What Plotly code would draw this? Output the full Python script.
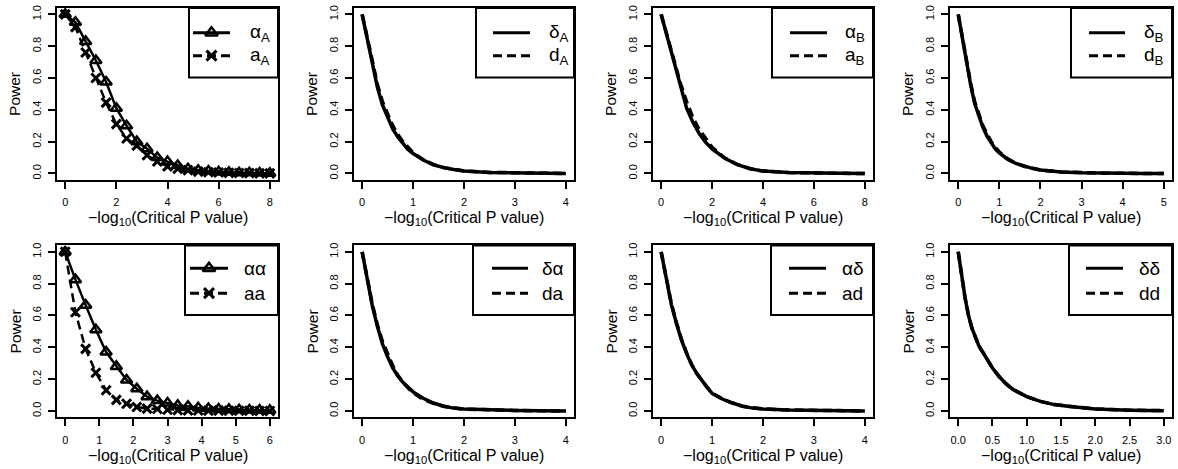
import plotly.graph_objects as go

W, H = 1178, 469

# ---------------- data ----------------
x_alphaA = [0.0, 0.4, 0.8, 1.2, 1.6, 2.0, 2.4, 2.8, 3.2, 3.6, 4.0, 4.4, 4.8, 5.2, 5.6, 6.0, 6.4, 6.8, 7.2, 7.6, 8.0]
alpha_A = [1.0, 0.95, 0.83, 0.71, 0.575, 0.41, 0.30, 0.20, 0.155, 0.10, 0.075, 0.05, 0.03, 0.02, 0.015, 0.01, 0.008, 0.005, 0.004, 0.003, 0.002]
a_A = [1.0, 0.92, 0.76, 0.60, 0.445, 0.31, 0.22, 0.175, 0.115, 0.075, 0.045, 0.03, 0.02, 0.012, 0.008, 0.006, 0.004, 0.003, 0.002, 0.001, 0.001]

x_deltaA = [0, 0.1, 0.2, 0.3, 0.4, 0.5, 0.6, 0.7, 0.8, 0.9, 1.0, 1.2, 1.4, 1.6, 1.8, 2.0, 2.5, 3.0, 3.5, 4.0]
delta_A = [1.0, 0.84, 0.68, 0.54, 0.43, 0.35, 0.28, 0.23, 0.19, 0.15, 0.125, 0.085, 0.055, 0.037, 0.025, 0.016, 0.007, 0.003, 0.001, 0.0]
d_A = [1.0, 0.85, 0.70, 0.56, 0.45, 0.375, 0.30, 0.245, 0.20, 0.165, 0.13, 0.087, 0.056, 0.037, 0.025, 0.016, 0.007, 0.003, 0.001, 0.0]

x_alphaB = [0, 0.25, 0.5, 0.75, 1.0, 1.25, 1.5, 1.75, 2.0, 2.5, 3.0, 3.5, 4.0, 5.0, 6.0, 7.0, 8.0]
alpha_B = [1.0, 0.85, 0.69, 0.54, 0.41, 0.32, 0.25, 0.195, 0.155, 0.095, 0.055, 0.03, 0.015, 0.006, 0.002, 0.001, 0.0]
a_B = [1.0, 0.86, 0.71, 0.57, 0.45, 0.35, 0.275, 0.215, 0.165, 0.097, 0.056, 0.03, 0.015, 0.006, 0.002, 0.001, 0.0]

x_deltaB = [0, 0.1, 0.2, 0.3, 0.4, 0.5, 0.6, 0.7, 0.8, 0.9, 1.0, 1.2, 1.4, 1.6, 1.8, 2.0, 2.5, 3.0, 3.5, 4.0, 4.5, 5.0]
delta_B = [1.0, 0.85, 0.69, 0.56, 0.44, 0.36, 0.29, 0.235, 0.19, 0.155, 0.13, 0.09, 0.063, 0.045, 0.032, 0.022, 0.01, 0.005, 0.002, 0.001, 0.0005, 0.0]
d_B = [1.0, 0.85, 0.70, 0.57, 0.45, 0.37, 0.30, 0.25, 0.20, 0.165, 0.135, 0.092, 0.064, 0.045, 0.032, 0.022, 0.01, 0.005, 0.002, 0.001, 0.0005, 0.0]

x_aa = [0.0, 0.3, 0.6, 0.9, 1.2, 1.5, 1.8, 2.1, 2.4, 2.7, 3.0, 3.3, 3.6, 3.9, 4.2, 4.5, 4.8, 5.1, 5.4, 5.7, 6.0]
alpha_alpha = [1.0, 0.825, 0.665, 0.51, 0.37, 0.28, 0.195, 0.14, 0.09, 0.065, 0.05, 0.035, 0.03, 0.02, 0.015, 0.012, 0.01, 0.008, 0.006, 0.005, 0.004]
aa = [1.0, 0.62, 0.39, 0.24, 0.13, 0.07, 0.045, 0.025, 0.015, 0.012, 0.008, 0.005, 0.004, 0.003, 0.002, 0.002, 0.001, 0.001, 0.001, 0.0, 0.0]

x_da = [0, 0.1, 0.2, 0.3, 0.4, 0.5, 0.6, 0.7, 0.8, 0.9, 1.0, 1.2, 1.4, 1.6, 1.8, 2.0, 2.5, 3.0, 3.5, 4.0]
delta_alpha = [1.0, 0.82, 0.66, 0.53, 0.42, 0.34, 0.27, 0.22, 0.18, 0.15, 0.12, 0.08, 0.05, 0.03, 0.018, 0.012, 0.006, 0.003, 0.001, 0.0]
da = [1.0, 0.82, 0.67, 0.54, 0.435, 0.36, 0.285, 0.225, 0.18, 0.145, 0.115, 0.072, 0.048, 0.03, 0.018, 0.012, 0.006, 0.003, 0.001, 0.0]

x_ad = [0, 0.1, 0.2, 0.3, 0.4, 0.5, 0.6, 0.7, 0.8, 0.9, 1.0, 1.2, 1.4, 1.6, 1.8, 2.0, 2.5, 3.0, 3.5, 4.0]
alpha_delta = [1.0, 0.83, 0.67, 0.55, 0.445, 0.36, 0.29, 0.235, 0.19, 0.15, 0.11, 0.075, 0.05, 0.03, 0.018, 0.012, 0.006, 0.003, 0.001, 0.0]
ad = [1.0, 0.83, 0.675, 0.555, 0.45, 0.365, 0.29, 0.235, 0.19, 0.15, 0.112, 0.076, 0.05, 0.03, 0.02, 0.013, 0.006, 0.003, 0.001, 0.0]

x_dd = [0, 0.05, 0.1, 0.15, 0.2, 0.3, 0.4, 0.5, 0.6, 0.7, 0.8, 0.9, 1.0, 1.2, 1.4, 1.6, 1.8, 2.0, 2.5, 3.0]
delta_delta = [1.0, 0.84, 0.71, 0.60, 0.52, 0.41, 0.335, 0.27, 0.215, 0.17, 0.135, 0.11, 0.09, 0.06, 0.04, 0.03, 0.02, 0.012, 0.005, 0.002]
dd = [1.0, 0.84, 0.71, 0.60, 0.52, 0.41, 0.335, 0.27, 0.215, 0.17, 0.135, 0.11, 0.09, 0.06, 0.04, 0.03, 0.02, 0.012, 0.005, 0.002]

names_solid = ["α<sub>A</sub>", "δ<sub>A</sub>", "α<sub>B</sub>", "δ<sub>B</sub>", "αα", "δα", "αδ", "δδ"]
names_dash = ["a<sub>A</sub>", "d<sub>A</sub>", "a<sub>B</sub>", "d<sub>B</sub>", "aa", "da", "ad", "dd"]
x_max = [8, 4, 8, 5, 6, 4, 4, 3]
x_step = [2, 1, 2, 1, 1, 1, 1, 0.5]
y_ticks = [0.0, 0.2, 0.4, 0.6, 0.8, 1.0]

panels = [
    (x_alphaA, alpha_A, a_A, True),
    (x_deltaA, delta_A, d_A, False),
    (x_alphaB, alpha_B, a_B, False),
    (x_deltaB, delta_B, d_B, False),
    (x_aa, alpha_alpha, aa, True),
    (x_da, delta_alpha, da, False),
    (x_ad, alpha_delta, ad, False),
    (x_dd, delta_delta, dd, False),
]

# ---------------- layout geometry (pixels) ----------------
cols = [(57, 278), (354, 574), (653, 873), (950, 1172)]
rows = [(5, 178), (244, 417)]
# legend: (left, top, bottom, sample x0, sample x1, text x, entry y1, entry y2)
legends = [
    (189, 5, 75, 193, 230, 248, 30, 53),
    (476, 5, 75, 493, 530, 547, 30, 53),
    (772, 5, 75, 790, 827, 843, 30, 53),
    (1071, 5, 75, 1089, 1125, 1142, 30, 53),
    (185, 244, 314, 190, 228, 242, 267, 292),
    (473, 244, 314, 492, 528, 540, 267, 292),
    (771, 244, 314, 789, 826, 840, 267, 292),
    (1069, 244, 314, 1086, 1123, 1137, 267, 292),
]

def fx(p):
    return p / W

def fy(p):
    return 1 - p / H

FONT = "Liberation Sans, Arial, sans-serif"
DASH = "9px,5px"

fig = go.Figure()
layout = dict(
    width=W, height=H, margin=dict(l=0, r=0, t=0, b=0),
    paper_bgcolor="white", plot_bgcolor="rgba(0,0,0,0)",
    showlegend=False, font=dict(family=FONT, color="black"),
)
shapes = []
annotations = []

for i, (xs, ys1, ys2, markers) in enumerate(panels):
    n = i + 1
    r, c = divmod(i, 4)
    xl, xr = cols[c]
    yt, yb = rows[r]
    xk = "x" if n == 1 else f"x{n}"
    yk = "y" if n == 1 else f"y{n}"
    span = x_max[i]
    ticks = []
    t = 0.0
    while t <= span + 1e-9:
        ticks.append(round(t, 3))
        t += x_step[i]
    ticktext = [f"{v:.1f}" if x_step[i] < 1 else f"{int(v)}" for v in ticks]
    layout["xaxis" if n == 1 else f"xaxis{n}"] = dict(
        domain=[fx(xl), fx(xr)], anchor=yk,
        range=[-0.04 * span, span * 1.04],
        tickvals=ticks, ticktext=ticktext,
        showline=True, mirror=True, linewidth=2, linecolor="black",
        ticks="outside", ticklen=7, tickwidth=1.5, tickcolor="black",
        showgrid=False, zeroline=False, tickfont=dict(size=11, family=FONT, color="black"),
        ticklabelstandoff=4,
    )
    layout["yaxis" if n == 1 else f"yaxis{n}"] = dict(
        domain=[fy(yb), fy(yt)], anchor=xk,
        range=[-0.04, 1.04],
        tickvals=y_ticks, ticktext=[f"{v:.1f}" for v in y_ticks],
        showline=True, mirror=True, linewidth=2, linecolor="black",
        ticks="outside", ticklen=7, tickwidth=1.5, tickcolor="black",
        showgrid=False, zeroline=False, tickangle=-90,
        tickfont=dict(size=11, family=FONT, color="black"),
        ticklabelstandoff=3,
    )
    if markers:
        fig.add_trace(go.Scatter(x=xs, y=ys1, xaxis=xk, yaxis=yk, mode="lines+markers",
                                 line=dict(color="black", width=2.5),
                                 marker=dict(symbol="triangle-up-open", size=10, color="black",
                                             line=dict(width=2.5, color="black"))))
        fig.add_trace(go.Scatter(x=xs, y=ys2, xaxis=xk, yaxis=yk, mode="lines+markers",
                                 line=dict(color="black", width=2.5, dash=DASH),
                                 marker=dict(symbol="x-thin-open", size=9, color="black",
                                             line=dict(width=3, color="black"))))
    else:
        fig.add_trace(go.Scatter(x=xs, y=ys1, xaxis=xk, yaxis=yk, mode="lines",
                                 line=dict(color="black", width=3.5)))
        fig.add_trace(go.Scatter(x=xs, y=ys2, xaxis=xk, yaxis=yk, mode="lines",
                                 line=dict(color="black", width=3.5, dash=DASH)))

    # axis titles
    annotations.append(dict(text="\u2212log<sub>10</sub>(Critical P value)", xref="paper", yref="paper",
                            x=fx((xl + xr) / 2), y=fy(yb + 39), xanchor="center", yanchor="middle",
                            showarrow=False, font=dict(size=16, family=FONT, color="black")))
    annotations.append(dict(text="Power", xref="paper", yref="paper", textangle=-90,
                            x=fx(xl - 42), y=fy((yt + yb) / 2), xanchor="center", yanchor="middle",
                            showarrow=False, font=dict(size=15.5, family=FONT, color="black")))

    # legend box
    lg = legends[i]
    shapes.append(dict(type="rect", xref="paper", yref="paper", x0=fx(lg[0]), x1=fx(xr),
                       y0=fy(lg[2]), y1=fy(lg[1]), line=dict(color="black", width=2),
                       fillcolor="rgba(0,0,0,0)", layer="above"))
    shapes.append(dict(type="line", xref="paper", yref="paper", x0=fx(lg[3]), x1=fx(lg[4]),
                       y0=fy(lg[6]), y1=fy(lg[6]), line=dict(color="black", width=3)))
    shapes.append(dict(type="line", xref="paper", yref="paper", x0=fx(lg[3]), x1=fx(lg[4]),
                       y0=fy(lg[7]), y1=fy(lg[7]), line=dict(color="black", width=3, dash=DASH)))
    for txt, yy in ((names_solid[i], lg[6]), (names_dash[i], lg[7])):
        annotations.append(dict(text=txt, xref="paper", yref="paper", x=fx(lg[5]), y=fy(yy),
                                xanchor="left", yanchor="middle", showarrow=False,
                                font=dict(size=19, family=FONT, color="black")))
    if markers:
        mx = (lg[3] + lg[4]) / 2
        fig.add_trace(go.Scatter(x=[mx], y=[lg[6]], xaxis="x9", yaxis="y9", mode="markers",
                                 marker=dict(symbol="triangle-up-open", size=11, color="black",
                                             line=dict(width=2.5, color="black"))))
        fig.add_trace(go.Scatter(x=[mx], y=[lg[7]], xaxis="x9", yaxis="y9", mode="markers",
                                 marker=dict(symbol="x-thin-open", size=10, color="black",
                                             line=dict(width=3, color="black"))))

layout["xaxis9"] = dict(domain=[0, 1], range=[0, W], visible=False, anchor="y9", fixedrange=True)
layout["yaxis9"] = dict(domain=[0, 1], range=[H, 0], visible=False, anchor="x9", fixedrange=True)
layout["shapes"] = shapes
layout["annotations"] = annotations
fig.update_layout(**layout)
fig.write_html("out.html")
